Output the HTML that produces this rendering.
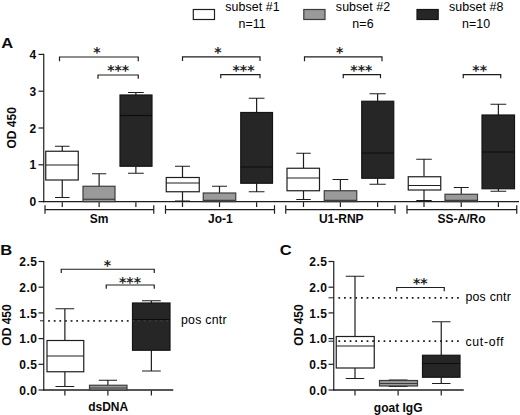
<!DOCTYPE html>
<html><head><meta charset="utf-8"><title>Figure</title>
<style>
html,body{margin:0;padding:0;background:#fff;}
body{width:520px;height:415px;overflow:hidden;}
svg{display:block}
text{font-family:"Liberation Sans",sans-serif;fill:#000}
.r{font-size:12.4px;letter-spacing:0.08px}
.r2{font-size:12.3px;letter-spacing:0.25px}
.r3{font-size:12.3px;letter-spacing:0.7px}
.b{font-size:12px;font-weight:bold;fill:#0a0a0a}
.bt{font-size:12px;font-weight:bold;fill:#0a0a0a;letter-spacing:0.55px}
.p{font-size:15px;font-weight:bold;fill:#0a0a0a}
.s{font-family:"DejaVu Sans",sans-serif;font-size:14px;font-weight:bold;fill:#222}
</style></head><body>
<svg width="520" height="415" viewBox="0 0 520 415">
<rect width="520" height="415" fill="#fff"/>
<rect x="193.3" y="9.5" width="21.2" height="10" fill="#ffffff" stroke="#1e1e1e" stroke-width="1.2"/>
<rect x="303.8" y="9.5" width="21.2" height="10" fill="#9a9a9a" stroke="#3c3c3c" stroke-width="1.2"/>
<rect x="417" y="9.5" width="21.2" height="10" fill="#262626" stroke="#141414" stroke-width="1.2"/>
<text x="252.5" y="10.6" class="r" text-anchor="middle" >subset #1</text>
<text x="252.2" y="27.6" class="r" text-anchor="middle" >n=11</text>
<text x="363.1" y="10.6" class="r" text-anchor="middle" >subset #2</text>
<text x="363" y="27.6" class="r" text-anchor="middle" >n=6</text>
<text x="476.2" y="10.6" class="r" text-anchor="middle" >subset #8</text>
<text x="476.2" y="27.6" class="r" text-anchor="middle" >n=10</text>
<text class="p" transform="translate(1.2,47.9) scale(1.1,1)">A</text>
<text class="p" transform="translate(0.2,255.1) scale(1.1,1)">B</text>
<text class="p" transform="translate(279.8,255.3) scale(1.1,1)">C</text>
<path d="M43.75 53.80V202.20" stroke="#1e1e1e" stroke-width="1.2"/>
<path d="M43.15 201.6H519" stroke="#1e1e1e" stroke-width="1.3"/>
<path d="M38.5 201.60H43.75" stroke="#1e1e1e" stroke-width="1.2"/>
<text x="36.2" y="206.10" class="b" text-anchor="end" >0</text>
<path d="M38.5 164.80H43.75" stroke="#1e1e1e" stroke-width="1.2"/>
<text x="36.2" y="169.30" class="b" text-anchor="end" >1</text>
<path d="M38.5 128.00H43.75" stroke="#1e1e1e" stroke-width="1.2"/>
<text x="36.2" y="132.50" class="b" text-anchor="end" >2</text>
<path d="M38.5 91.20H43.75" stroke="#1e1e1e" stroke-width="1.2"/>
<text x="36.2" y="95.70" class="b" text-anchor="end" >3</text>
<path d="M38.5 54.40H43.75" stroke="#1e1e1e" stroke-width="1.2"/>
<text x="36.2" y="58.90" class="b" text-anchor="end" >4</text>
<text class="b" text-anchor="middle" transform="translate(16.3,127.8) rotate(-90)">OD 450</text>
<path d="M62.25 151.25V146.25M55.00 146.25H69.50" stroke="#1e1e1e" stroke-width="1.2" fill="none"/>
<path d="M62.25 180.00V197.50M55.00 197.50H69.50" stroke="#1e1e1e" stroke-width="1.2" fill="none"/>
<rect x="45.75" y="151.25" width="32.50" height="28.75" fill="#ffffff" stroke="#1e1e1e" stroke-width="1.2"/>
<path d="M45.75 165.00H78.25" stroke="#1e1e1e" stroke-width="1.2"/>
<path d="M62.25 202.20V207" stroke="#1e1e1e" stroke-width="1.2"/>
<path d="M99.12 186.25V173.75M92.00 173.75H106.25" stroke="#1e1e1e" stroke-width="1.2" fill="none"/>
<rect x="83.00" y="186.25" width="32.00" height="15.35" fill="#9a9a9a" stroke="#3c3c3c" stroke-width="1.2"/>
<path d="M83.00 199.25H115.00" stroke="#3c3c3c" stroke-width="1.2"/>
<path d="M99.12 202.20V207" stroke="#1e1e1e" stroke-width="1.2"/>
<path d="M135.88 95.00V92.50M128.00 92.50H143.75" stroke="#1e1e1e" stroke-width="1.2" fill="none"/>
<path d="M135.88 166.25V173.25M128.00 173.25H143.75" stroke="#1e1e1e" stroke-width="1.2" fill="none"/>
<rect x="120.00" y="95.00" width="32.00" height="71.25" fill="#262626" stroke="#141414" stroke-width="1.2"/>
<path d="M120.00 115.50H152.00" stroke="#0c0c0c" stroke-width="1.2"/>
<path d="M135.88 202.20V207" stroke="#1e1e1e" stroke-width="1.2"/>
<path d="M182.50 177.50V166.25M175.00 166.25H190.00" stroke="#1e1e1e" stroke-width="1.2" fill="none"/>
<path d="M182.50 191.75V201.00M175.00 201.00H190.00" stroke="#1e1e1e" stroke-width="1.2" fill="none"/>
<rect x="166.25" y="177.50" width="33.00" height="14.25" fill="#ffffff" stroke="#1e1e1e" stroke-width="1.2"/>
<path d="M166.25 183.00H199.25" stroke="#1e1e1e" stroke-width="1.2"/>
<path d="M182.50 202.20V207" stroke="#1e1e1e" stroke-width="1.2"/>
<path d="M219.50 193.00V186.25M212.00 186.25H227.00" stroke="#1e1e1e" stroke-width="1.2" fill="none"/>
<rect x="203.25" y="193.00" width="32.50" height="8.60" fill="#9a9a9a" stroke="#3c3c3c" stroke-width="1.2"/>
<path d="M203.25 200.40H235.75" stroke="#3c3c3c" stroke-width="1.2"/>
<path d="M219.50 202.20V207" stroke="#1e1e1e" stroke-width="1.2"/>
<path d="M256.62 112.50V98.25M248.75 98.25H264.50" stroke="#1e1e1e" stroke-width="1.2" fill="none"/>
<path d="M256.62 183.25V191.75M248.75 191.75H264.50" stroke="#1e1e1e" stroke-width="1.2" fill="none"/>
<rect x="240.75" y="112.50" width="31.75" height="70.75" fill="#262626" stroke="#141414" stroke-width="1.2"/>
<path d="M240.75 167.00H272.50" stroke="#0c0c0c" stroke-width="1.2"/>
<path d="M256.62 202.20V207" stroke="#1e1e1e" stroke-width="1.2"/>
<path d="M303.50 168.25V153.25M296.25 153.25H310.75" stroke="#1e1e1e" stroke-width="1.2" fill="none"/>
<path d="M303.50 190.75V199.50M296.25 199.50H310.75" stroke="#1e1e1e" stroke-width="1.2" fill="none"/>
<rect x="287.00" y="168.25" width="32.50" height="22.50" fill="#ffffff" stroke="#1e1e1e" stroke-width="1.2"/>
<path d="M287.00 178.00H319.50" stroke="#1e1e1e" stroke-width="1.2"/>
<path d="M303.50 202.20V207" stroke="#1e1e1e" stroke-width="1.2"/>
<path d="M340.38 190.75V179.50M332.50 179.50H348.25" stroke="#1e1e1e" stroke-width="1.2" fill="none"/>
<rect x="324.25" y="190.75" width="32.50" height="10.85" fill="#9a9a9a" stroke="#3c3c3c" stroke-width="1.2"/>
<path d="M324.25 200.40H356.75" stroke="#3c3c3c" stroke-width="1.2"/>
<path d="M340.38 202.20V207" stroke="#1e1e1e" stroke-width="1.2"/>
<path d="M377.62 101.25V93.75M369.50 93.75H385.75" stroke="#1e1e1e" stroke-width="1.2" fill="none"/>
<path d="M377.62 178.25V184.25M369.50 184.25H385.75" stroke="#1e1e1e" stroke-width="1.2" fill="none"/>
<rect x="361.75" y="101.25" width="32.00" height="77.00" fill="#262626" stroke="#141414" stroke-width="1.2"/>
<path d="M361.75 153.00H393.75" stroke="#0c0c0c" stroke-width="1.2"/>
<path d="M377.62 202.20V207" stroke="#1e1e1e" stroke-width="1.2"/>
<path d="M424.00 176.75V159.25M416.25 159.25H431.75" stroke="#1e1e1e" stroke-width="1.2" fill="none"/>
<path d="M424.00 190.00V200.50M416.25 200.50H431.75" stroke="#1e1e1e" stroke-width="1.2" fill="none"/>
<rect x="408.25" y="176.75" width="32.50" height="13.25" fill="#ffffff" stroke="#1e1e1e" stroke-width="1.2"/>
<path d="M408.25 185.50H440.75" stroke="#1e1e1e" stroke-width="1.2"/>
<path d="M424.00 202.20V207" stroke="#1e1e1e" stroke-width="1.2"/>
<path d="M461.25 194.25V187.50M453.75 187.50H468.75" stroke="#1e1e1e" stroke-width="1.2" fill="none"/>
<rect x="445.00" y="194.25" width="32.50" height="7.35" fill="#9a9a9a" stroke="#3c3c3c" stroke-width="1.2"/>
<path d="M445.00 200.40H477.50" stroke="#3c3c3c" stroke-width="1.2"/>
<path d="M461.25 202.20V207" stroke="#1e1e1e" stroke-width="1.2"/>
<path d="M498.38 115.00V104.25M490.50 104.25H506.25" stroke="#1e1e1e" stroke-width="1.2" fill="none"/>
<path d="M498.38 188.75V191.25M490.50 191.25H506.25" stroke="#1e1e1e" stroke-width="1.2" fill="none"/>
<rect x="482.00" y="115.00" width="32.50" height="73.75" fill="#262626" stroke="#141414" stroke-width="1.2"/>
<path d="M482.00 152.00H514.50" stroke="#0c0c0c" stroke-width="1.2"/>
<path d="M498.38 202.20V207" stroke="#1e1e1e" stroke-width="1.2"/>
<path d="M45 205.2V213.8M153.75 205.2V213.8M45 209.6H153.75" stroke="#1e1e1e" stroke-width="1.2" fill="none"/>
<text x="99.1" y="222.7" class="b" text-anchor="middle" >Sm</text>
<path d="M165.5 205.2V213.8M274.5 205.2V213.8M165.5 209.6H274.5" stroke="#1e1e1e" stroke-width="1.2" fill="none"/>
<text x="220.4" y="222.7" class="b" text-anchor="middle" >Jo-1</text>
<path d="M285.75 205.2V213.8M395 205.2V213.8M285.75 209.6H395" stroke="#1e1e1e" stroke-width="1.2" fill="none"/>
<text x="341.3" y="222.7" class="b" text-anchor="middle" >U1-RNP</text>
<path d="M407 205.2V213.8M516.75 205.2V213.8M407 209.6H516.75" stroke="#1e1e1e" stroke-width="1.2" fill="none"/>
<text x="461.5" y="222.7" class="b" text-anchor="middle" >SS-A/Ro</text>
<path d="M59.5 61.2V57H138.25V61.2" stroke="#1e1e1e" stroke-width="1.2" fill="none"/>
<text x="97" y="57" class="s" text-anchor="middle" >*</text>
<path d="M98 78.8V75H138.25V78.8" stroke="#1e1e1e" stroke-width="1.2" fill="none"/>
<text x="118.2" y="75" class="s" text-anchor="middle" >***</text>
<path d="M182.5 61.0V56.8H260V61.0" stroke="#1e1e1e" stroke-width="1.2" fill="none"/>
<text x="218" y="57" class="s" text-anchor="middle" >*</text>
<path d="M220.75 78.19999999999999V74.6H260V78.19999999999999" stroke="#1e1e1e" stroke-width="1.2" fill="none"/>
<text x="243.5" y="75" class="s" text-anchor="middle" >***</text>
<path d="M304.5 61.199999999999996V56.8H382V61.199999999999996" stroke="#1e1e1e" stroke-width="1.2" fill="none"/>
<text x="339.6" y="57" class="s" text-anchor="middle" >*</text>
<path d="M343.25 78.19999999999999V74.6H380.5V78.19999999999999" stroke="#1e1e1e" stroke-width="1.2" fill="none"/>
<text x="361.3" y="75" class="s" text-anchor="middle" >***</text>
<path d="M463.25 78.19999999999999V74.6H500.75V78.19999999999999" stroke="#1e1e1e" stroke-width="1.2" fill="none"/>
<text x="479.7" y="75" class="s" text-anchor="middle" >**</text>
<path d="M43.75 260.90V390.60" stroke="#1e1e1e" stroke-width="1.2"/>
<path d="M43.15 390H173.25" stroke="#1e1e1e" stroke-width="1.3"/>
<path d="M38.55 390.00H43.75" stroke="#1e1e1e" stroke-width="1.2"/>
<text x="37.55" y="394.60" class="bt" text-anchor="end" >0.0</text>
<path d="M38.55 364.30H43.75" stroke="#1e1e1e" stroke-width="1.2"/>
<text x="37.55" y="368.90" class="bt" text-anchor="end" >0.5</text>
<path d="M38.55 338.60H43.75" stroke="#1e1e1e" stroke-width="1.2"/>
<text x="37.55" y="343.20" class="bt" text-anchor="end" >1.0</text>
<path d="M38.55 312.90H43.75" stroke="#1e1e1e" stroke-width="1.2"/>
<text x="37.55" y="317.50" class="bt" text-anchor="end" >1.5</text>
<path d="M38.55 287.20H43.75" stroke="#1e1e1e" stroke-width="1.2"/>
<text x="37.55" y="291.80" class="bt" text-anchor="end" >2.0</text>
<path d="M38.55 261.50H43.75" stroke="#1e1e1e" stroke-width="1.2"/>
<text x="37.55" y="266.10" class="bt" text-anchor="end" >2.5</text>
<text class="b" text-anchor="middle" transform="translate(11.0,325) rotate(-90)">OD 450</text>
<path d="M64.88 340.50V308.75M55.50 308.75H74.25" stroke="#1e1e1e" stroke-width="1.2" fill="none"/>
<path d="M64.88 371.75V386.50M55.50 386.50H74.25" stroke="#1e1e1e" stroke-width="1.2" fill="none"/>
<rect x="47.00" y="340.50" width="36.75" height="31.25" fill="#ffffff" stroke="#1e1e1e" stroke-width="1.2"/>
<path d="M47.00 356.00H83.75" stroke="#1e1e1e" stroke-width="1.2"/>
<path d="M64.88 390.6V395.4" stroke="#1e1e1e" stroke-width="1.2"/>
<path d="M107.88 385.25V380.25M98.75 380.25H117.00" stroke="#1e1e1e" stroke-width="1.2" fill="none"/>
<rect x="89.50" y="385.25" width="37.50" height="4.75" fill="#9a9a9a" stroke="#3c3c3c" stroke-width="1.2"/>
<path d="M89.50 388.00H127.00" stroke="#3c3c3c" stroke-width="1.2"/>
<path d="M107.88 390.6V395.4" stroke="#1e1e1e" stroke-width="1.2"/>
<path d="M151.38 303.00V300.75M142.00 300.75H160.75" stroke="#1e1e1e" stroke-width="1.2" fill="none"/>
<path d="M151.38 350.25V371.00M142.00 371.00H160.75" stroke="#1e1e1e" stroke-width="1.2" fill="none"/>
<rect x="132.50" y="303.00" width="37.50" height="47.25" fill="#262626" stroke="#141414" stroke-width="1.2"/>
<path d="M132.50 319.50H170.00" stroke="#0c0c0c" stroke-width="1.2"/>
<path d="M151.38 390.6V395.4" stroke="#1e1e1e" stroke-width="1.2"/>
<path d="M48.2 320.8H132" stroke="#1a1a1a" stroke-width="1.7" stroke-dasharray="1.7 3.92"/>
<path d="M48.2 320.8H170" stroke="#777" stroke-width="1.2" stroke-dasharray="1.7 3.92" opacity="0.35"/>
<path d="M40 320.8H43.75" stroke="#1e1e1e" stroke-width="1.0"/>
<text x="181" y="323.8" class="r2" text-anchor="start" >pos cntr</text>
<path d="M61.25 273.05V269.25H154.25V273.05" stroke="#1e1e1e" stroke-width="1.2" fill="none"/>
<text x="107.3" y="270" class="s" text-anchor="middle" >*</text>
<path d="M106.25 288.8V285H154.25V288.8" stroke="#1e1e1e" stroke-width="1.2" fill="none"/>
<text x="130" y="287" class="s" text-anchor="middle" >***</text>
<text x="108.2" y="411" class="b" text-anchor="middle" >dsDNA</text>
<path d="M333.75 260.90V390.60" stroke="#1e1e1e" stroke-width="1.2"/>
<path d="M333.15 390H463.75" stroke="#1e1e1e" stroke-width="1.3"/>
<path d="M328.55 390.00H333.75" stroke="#1e1e1e" stroke-width="1.2"/>
<text x="327.55" y="394.60" class="bt" text-anchor="end" >0.0</text>
<path d="M328.55 364.30H333.75" stroke="#1e1e1e" stroke-width="1.2"/>
<text x="327.55" y="368.90" class="bt" text-anchor="end" >0.5</text>
<path d="M328.55 338.60H333.75" stroke="#1e1e1e" stroke-width="1.2"/>
<text x="327.55" y="343.20" class="bt" text-anchor="end" >1.0</text>
<path d="M328.55 312.90H333.75" stroke="#1e1e1e" stroke-width="1.2"/>
<text x="327.55" y="317.50" class="bt" text-anchor="end" >1.5</text>
<path d="M328.55 287.20H333.75" stroke="#1e1e1e" stroke-width="1.2"/>
<text x="327.55" y="291.80" class="bt" text-anchor="end" >2.0</text>
<path d="M328.55 261.50H333.75" stroke="#1e1e1e" stroke-width="1.2"/>
<text x="327.55" y="266.10" class="bt" text-anchor="end" >2.5</text>
<text class="b" text-anchor="middle" transform="translate(303.0,325) rotate(-90)">OD 450</text>
<path d="M355.00 336.50V276.25M345.75 276.25H364.25" stroke="#1e1e1e" stroke-width="1.2" fill="none"/>
<path d="M355.00 368.00V378.50M345.75 378.50H364.25" stroke="#1e1e1e" stroke-width="1.2" fill="none"/>
<rect x="336.25" y="336.50" width="38.00" height="31.50" fill="#ffffff" stroke="#1e1e1e" stroke-width="1.2"/>
<path d="M336.25 346.00H374.25" stroke="#1e1e1e" stroke-width="1.2"/>
<path d="M355.00 390.6V395.4" stroke="#1e1e1e" stroke-width="1.2"/>
<path d="M398.12 380.50V380.20M388.75 380.20H407.50" stroke="#1e1e1e" stroke-width="1.2" fill="none"/>
<path d="M398.12 386.00V386.40M388.75 386.40H407.50" stroke="#1e1e1e" stroke-width="1.2" fill="none"/>
<rect x="379.50" y="380.50" width="38.00" height="5.50" fill="#9a9a9a" stroke="#3c3c3c" stroke-width="1.2"/>
<path d="M379.50 383.50H417.50" stroke="#3c3c3c" stroke-width="1.2"/>
<path d="M398.12 390.6V395.4" stroke="#1e1e1e" stroke-width="1.2"/>
<path d="M441.25 355.25V321.75M432.00 321.75H450.50" stroke="#1e1e1e" stroke-width="1.2" fill="none"/>
<path d="M441.25 377.25V383.50M432.00 383.50H450.50" stroke="#1e1e1e" stroke-width="1.2" fill="none"/>
<rect x="422.50" y="355.25" width="37.50" height="22.00" fill="#262626" stroke="#141414" stroke-width="1.2"/>
<path d="M422.50 363.50H460.00" stroke="#0c0c0c" stroke-width="1.2"/>
<path d="M441.25 390.6V395.4" stroke="#1e1e1e" stroke-width="1.2"/>
<path d="M338.4 297.8H459.2" stroke="#1a1a1a" stroke-width="1.7" stroke-dasharray="1.7 3.95"/>
<path d="M338.4 341.2H459.2" stroke="#1a1a1a" stroke-width="1.7" stroke-dasharray="1.7 3.95"/>
<path d="M328.5 297.8H333.75M328.5 341.2H333.75" stroke="#1e1e1e" stroke-width="1.0"/>
<text x="465.4" y="301" class="r2" text-anchor="start" >pos cntr</text>
<text x="465.4" y="346.2" class="r3" text-anchor="start" >cut-off</text>
<path d="M396.75 291.3V287.5H444.25V291.3" stroke="#1e1e1e" stroke-width="1.2" fill="none"/>
<text x="420.3" y="288" class="s" text-anchor="middle" >**</text>
<text x="398.2" y="411.6" class="b" text-anchor="middle" >goat IgG</text>
</svg>
</body></html>
